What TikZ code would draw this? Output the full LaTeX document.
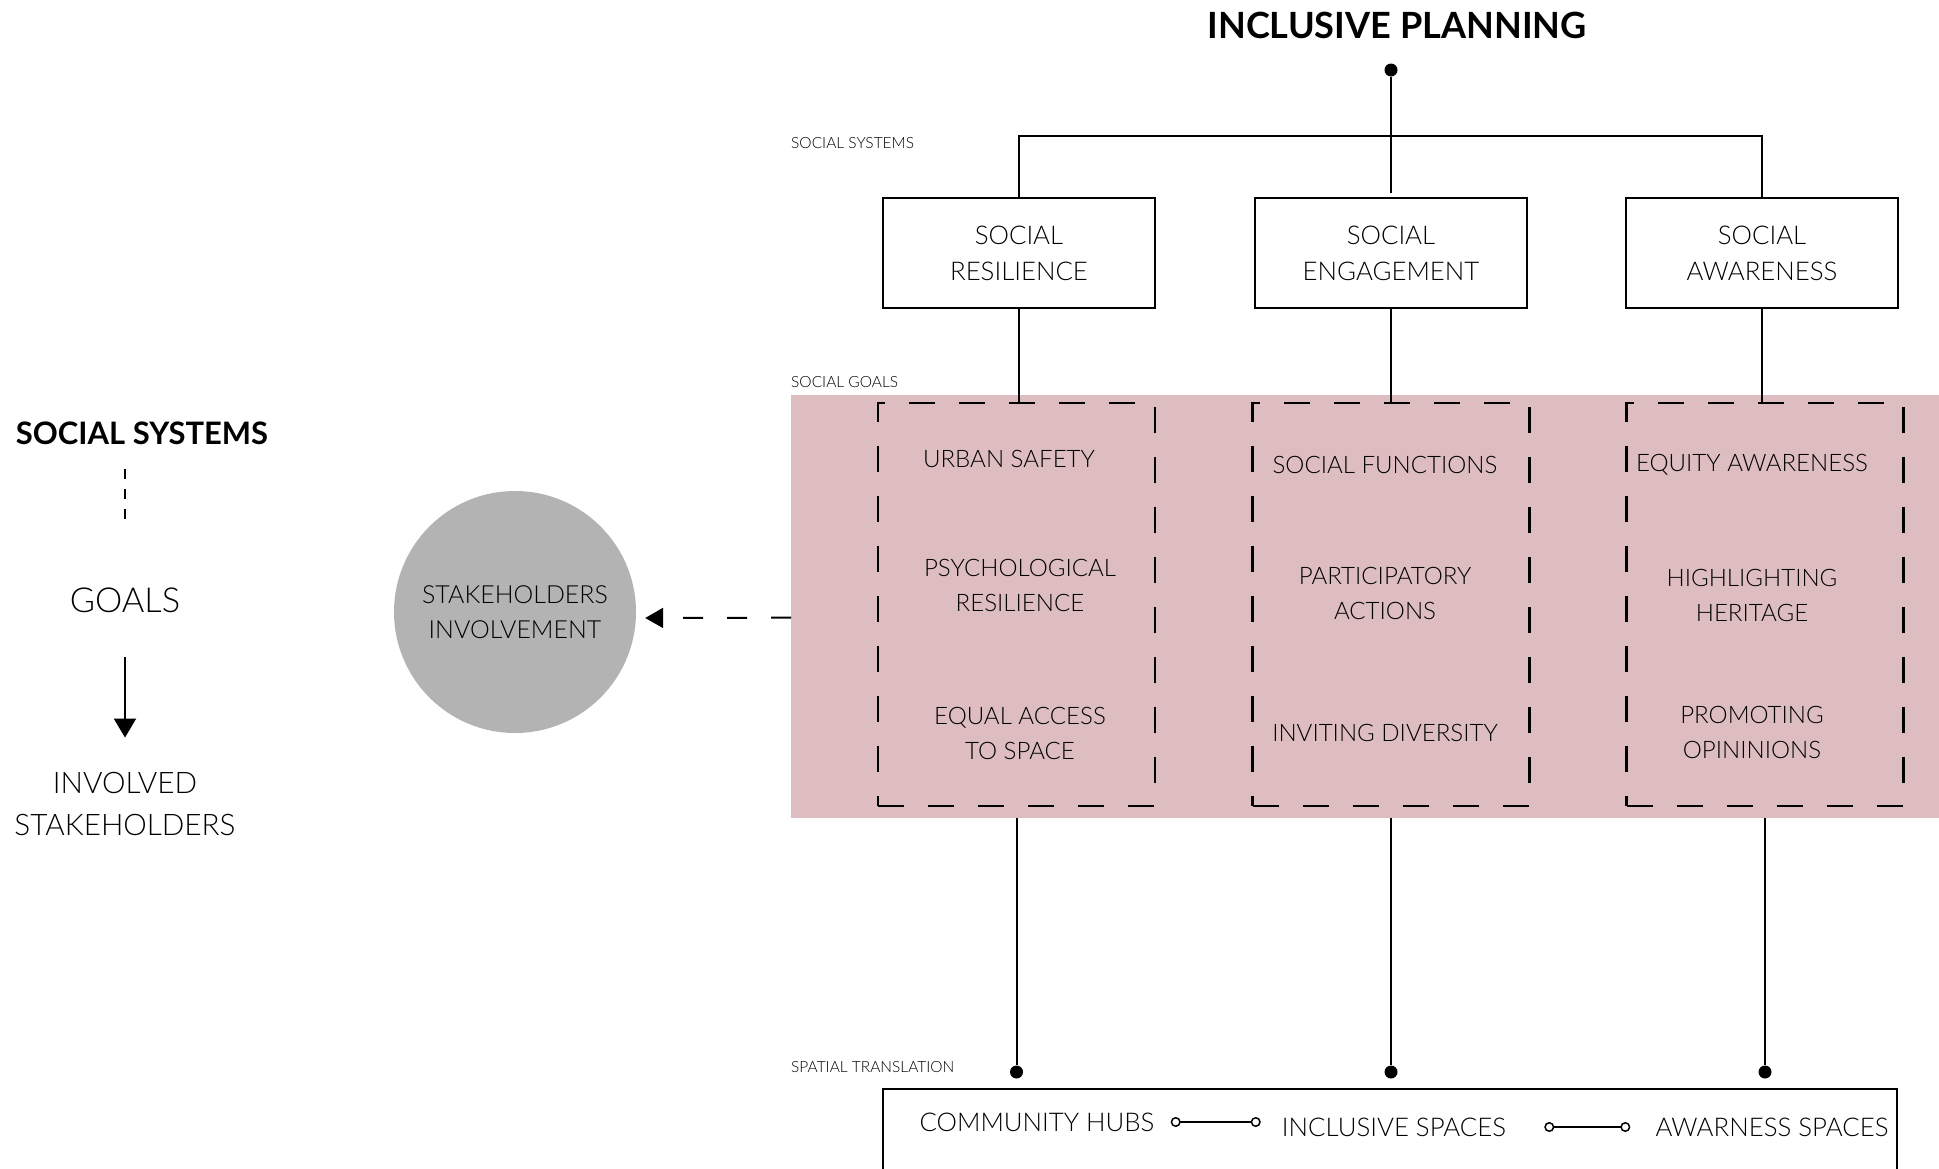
\documentclass[tikz,border=0pt]{standalone}
\usepackage{fontspec}
\IfFontExistsTF{Lato Light}{\setmainfont{Lato Light}[Scale=0.86, BoldFont={Lato Bold}]}{\setmainfont{Carlito}}
\usepackage{tikz}
\usetikzlibrary{arrows.meta}
\definecolor{goalpink}{RGB}{221,189,191}
\definecolor{holdgray}{RGB}{179,179,179}
\tikzstyle{title} = [inner sep=0pt, font=\bfseries\fontsize{42}{46}\selectfont]
\tikzstyle{sysbox} = [draw=black, line width=2pt, rectangle, minimum width=272pt, minimum height=110pt, inner sep=0pt, align=center, font=\fontsize{30}{36}\selectfont]
\tikzstyle{goalbox} = [draw=black, line width=2.5pt, dash pattern=on 26pt off 24pt, rectangle, minimum width=277pt, minimum height=403pt, inner sep=0pt]
\tikzstyle{goaltxt} = [inner sep=0pt, align=center, font=\fontsize{28}{35}\selectfont]
\tikzstyle{tag} = [anchor=west, inner sep=0pt, font=\fontsize{18}{20}\selectfont]
\tikzstyle{spacetxt} = [inner sep=0pt, font=\fontsize{30}{34}\selectfont]
\tikzstyle{link} = [line width=2pt]
\tikzstyle{dot} = [circle, fill=black, inner sep=0pt, minimum size=13pt]
\tikzstyle{band} = [fill=goalpink, rectangle, inner sep=0pt, minimum width=1148pt, minimum height=423pt]

\begin{document}
\begin{tikzpicture}[x=1pt, y=-1pt]
	\useasboundingbox (0,0) rectangle (1939,1168);
	% sistemi sociali
	\node[title] (plan) at (1397,25) {INCLUSIVE PLANNING};
	\node[dot] (root) at (1391,70) {};
	\node[sysbox] (res) at (1019,253) {SOCIAL\\RESILIENCE};
	\node[sysbox] (eng) at (1391,253) {SOCIAL\\ENGAGEMENT};
	\node[sysbox] (awa) at (1762,253) {SOCIAL\\AWARENESS};
	\coordinate (bar) at (1391,136);
	\draw[link] (root) -- ([yshift=4pt]eng.north);
	\draw[link] (res.north) |- (bar) -| (awa.north);
	% obiettivi
	\node[band, anchor=north west] (band) at (791,395) {};
	\node[goalbox] (g1) at (1016.5,604.5) {};
	\node[goalbox] (g2) at (1391,604.5) {};
	\node[goalbox] (g3) at (1765,604.5) {};
	\draw[link] (res.south) -- (res.south |- g1.north);
	\draw[link] (eng.south) -- (eng.south |- g2.north);
	\draw[link] (awa.south) -- (awa.south |- g3.north);
	\node[goaltxt] (safe) at (1009,459) {URBAN SAFETY};
	\node[goaltxt] (psy) at (1020,585.5) {PSYCHOLOGICAL\\RESILIENCE};
	\node[goaltxt] (equal) at (1020,733) {EQUAL ACCESS\\TO SPACE};
	\node[goaltxt] (func) at (1385,465) {SOCIAL FUNCTIONS};
	\node[goaltxt] (part) at (1385,593) {PARTICIPATORY\\ACTIONS};
	\node[goaltxt] (div) at (1385,733) {INVITING DIVERSITY};
	\node[goaltxt] (equity) at (1752,465) {EQUITY AWARENESS};
	\node[goaltxt] (herit) at (1752,595) {HIGHLIGHTING\\HERITAGE};
	\node[goaltxt] (prom) at (1752,732.5) {PROMOTING\\OPININIONS};
	\node[tag] (tsys) at (791,143) {SOCIAL SYSTEMS};
	\node[tag] (tgoal) at (791,382) {SOCIAL GOALS};
	\node[tag] (tspace) at (791,1067) {SPATIAL TRANSLATION};
	% traduzione spaziale
	\node[dot] (d1) at (1016.5,1072) {};
	\node[dot] (d2) at (1391,1072) {};
	\node[dot] (d3) at (1765,1072) {};
	\draw[link] (g1 |- band.south) -- (d1);
	\draw[link] (g2 |- band.south) -- (d2);
	\draw[link] (g3 |- band.south) -- (d3);
	\draw[link] (883,1180) |- (1897,1089) -- (1897,1180);
	\node[spacetxt] (hubs) at (1037,1122) {COMMUNITY HUBS};
	\node[spacetxt] (incl) at (1394,1127) {INCLUSIVE SPACES};
	\node[spacetxt] (aware) at (1772,1127) {AWARNESS SPACES};
	\draw[line width=1.5pt, {Circle[open,length=10pt]}-{Circle[open,length=10pt]}, shorten <=16pt, shorten >=21pt] (hubs.east) -- (hubs.east -| incl.west);
	\draw[line width=1.5pt, {Circle[open,length=10pt]}-{Circle[open,length=10pt]}, shorten <=38pt, shorten >=25pt] (incl.east) -- (incl.east -| aware.west);
	% stakeholders
	\node[circle, fill=holdgray, minimum size=242pt, inner sep=0pt, align=center, font=\fontsize{29}{35}\selectfont] (holders) at (515,612) {STAKEHOLDERS\\INVOLVEMENT};
	\draw[line width=2pt, dash pattern=on 20pt off 24pt, -{Triangle[length=18pt,width=20pt]}, shorten >=9pt] ([yshift=-11pt]band.west) -- ([yshift=-6pt]holders.east);
	% legenda
	\node[inner sep=0pt, font=\bfseries\fontsize{36}{40}\selectfont] (lsys) at (142,433) {SOCIAL SYSTEMS};
	\node[inner sep=0pt, font=\fontsize{40}{42}\selectfont] (lgoals) at (125,600) {GOALS};
	\node[inner sep=0pt, align=center, font=\fontsize{34.5}{42}\selectfont] (linv) at (125,803.5) {INVOLVED\\STAKEHOLDERS};
	\draw[line width=1.5pt, dash pattern=on 10pt off 10pt] (lsys.south -| lgoals) ++(0,24) -- ([yshift=65pt]lgoals.north);
	\draw[line width=2pt, -{Triangle[length=19pt,width=22pt]}, shorten <=44pt, shorten >=34pt] (lgoals.south) -- (linv.north);
\end{tikzpicture}
\end{document}
